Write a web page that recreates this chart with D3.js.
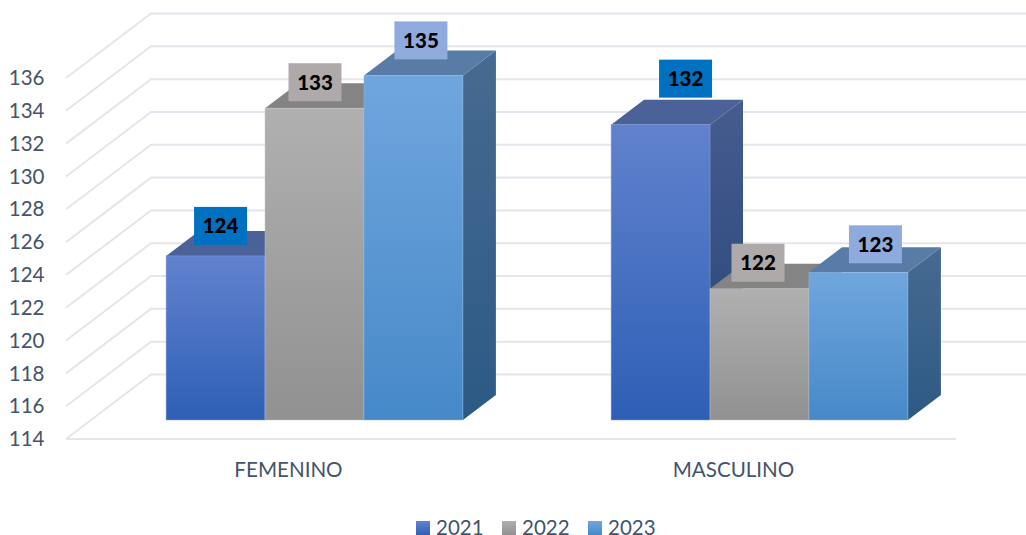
<!DOCTYPE html>
<html>
<head>
<meta charset="utf-8">
<script src="https://cdn.jsdelivr.net/npm/d3@7"></script>
<style>
  html, body { margin: 0; background: #fff; overflow: hidden; }
  text { font-family: Lato, sans-serif; }
</style>
</head>
<body>
<div id="chart"></div>
<script>
const categories = ['FEMENINO', 'MASCULINO'];
const years = ['2021', '2022', '2023'];
const values2021 = [124, 132];
const values2022 = [133, 122];
const values2023 = [135, 123];
const yTicks = [114, 116, 118, 120, 122, 124, 126, 128, 130, 132, 134, 136];

const width = 1026;
const height = 535;
const TEXT = '#44546a';
const GRID = '#e3e6ed';

// front left corner of the floor, and how far the back wall is pushed away
const floorLeft = 66;
const floorRight = 956;
const floorY = 439;
const topY = 78;
const wall = {dx: 85, dy: -64.5};
// bars stand a bit in from the front edge of the floor
const inset = {dx: 26, dy: -19};
const depth = {dx: 33, dy: -25};
const barGroup = 0.667;

// colours per series: front top/bottom, side top/bottom, top face, label box
const STYLES = [
  {front: ['#6182cd', '#2e5fb6'], side: ['#465c8f', '#254478'], top: '#4b6298', label: '#0070c0', edge: '#8aa3dc'},
  {front: ['#b0b0b0', '#919191'], side: ['#6f6f6f', '#5a5a5a'], top: '#848484', label: '#aeaaaa', edge: '#c4c6cc'},
  {front: ['#70a6de', '#4689c8'], side: ['#476a90', '#2c5a85'], top: '#587ca6', label: '#8faadc', edge: '#92bde6'}
];

// labels were dragged around by hand in the original: [dx from bar centre, dy from bar top]
const labelNudge = [
  [[5, -30], [25, -46]],
  [[0.5, -26], [-1.5, -26]],
  [[7.5, -35], [17, -28]]
];
const labelW = 53;
const labelH = 38;

const series = [values2021, values2022, values2023];

const svg = d3.select('#chart').append('svg')
  .attr('width', width)
  .attr('height', height)
  .style('display', 'block');

const defs = svg.append('defs');
function gradient(id, stops) {
  const g = defs.append('linearGradient')
    .attr('id', id)
    .attr('x1', 0).attr('y1', 0).attr('x2', 0).attr('y2', 1);
  g.append('stop').attr('offset', '0%').attr('stop-color', stops[0]);
  g.append('stop').attr('offset', '100%').attr('stop-color', stops[1]);
}
STYLES.forEach((s, i) => {
  gradient(`front-${i}`, s.front);
  gradient(`side-${i}`, s.side);
});

// y on the front edge of the floor, the wall and the bars are this plus an offset
const yScale = d3.scaleLinear()
  .domain([yTicks[0], yTicks[yTicks.length - 1]])
  .range([floorY, topY]);

const xScale = d3.scaleBand()
  .domain(categories)
  .range([floorLeft, floorRight]);

const xInner = d3.scaleBand()
  .domain(d3.range(years.length))
  .range([0, xScale.bandwidth() * barGroup]);

const barBase = yScale.domain()[0];

// gridlines: along the side wall, then along the back wall
const gridG = svg.append('g')
  .attr('fill', 'none')
  .attr('stroke', GRID)
  .attr('stroke-width', 2);
gridG.selectAll('path')
  .data(yTicks)
  .enter().append('path')
    .attr('d', (d) => {
      const y = yScale(d);
      return `M${floorLeft},${y}L${floorLeft + wall.dx},${y + wall.dy}L${floorRight + wall.dx},${y + wall.dy}`;
    });
gridG.append('line')
  .attr('x1', floorLeft)
  .attr('x2', floorRight)
  .attr('y1', floorY)
  .attr('y2', floorY);

// y tick labels
svg.append('g')
  .selectAll('text')
  .data(yTicks)
  .enter().append('text')
    .attr('x', 44.5)
    .attr('y', (d) => yScale(d))
    .attr('dy', '0.35em')
    .attr('text-anchor', 'end')
    .attr('font-size', 20.5)
    .attr('fill', TEXT)
    .text((d) => d);

// bars, drawn left to right so that each one covers the side of the previous
const bars = [];
categories.forEach((cat, c) => {
  series.forEach((vals, s) => {
    const groupW = xScale.bandwidth() * barGroup;
    const x0 = xScale(cat) + inset.dx + (xScale.bandwidth() - groupW) / 2 + xInner(s);
    bars.push({
      c: c,
      s: s,
      value: vals[c],
      x0: x0,
      x1: x0 + xInner.bandwidth(),
      yTop: yScale(vals[c]) + inset.dy,
      yBase: yScale(barBase) + inset.dy
    });
  });
});

const barG = svg.append('g')
  .selectAll('g')
  .data(bars)
  .enter().append('g');

barG.append('path')
  .attr('fill', (d) => `url(#side-${d.s})`)
  .attr('d', (d) => `M${d.x1},${d.yTop}L${d.x1 + depth.dx},${d.yTop + depth.dy}L${d.x1 + depth.dx},${d.yBase + depth.dy}L${d.x1},${d.yBase}Z`);

barG.append('path')
  .attr('fill', (d) => STYLES[d.s].top)
  .attr('d', (d) => `M${d.x0},${d.yTop}L${d.x0 + depth.dx},${d.yTop + depth.dy}L${d.x1 + depth.dx},${d.yTop + depth.dy}L${d.x1},${d.yTop}Z`);

barG.append('rect')
  .attr('x', (d) => d.x0)
  .attr('y', (d) => d.yTop)
  .attr('width', (d) => d.x1 - d.x0)
  .attr('height', (d) => d.yBase - d.yTop)
  .attr('fill', (d) => `url(#front-${d.s})`)
  .attr('stroke', (d) => STYLES[d.s].edge)
  .attr('stroke-opacity', 0.6)
  .attr('stroke-width', 0.8);

// data labels
const labelG = svg.append('g')
  .selectAll('g')
  .data(bars)
  .enter().append('g')
    .attr('transform', (d) => {
      const nudge = labelNudge[d.s][d.c];
      return `translate(${(d.x0 + d.x1) / 2 + nudge[0]},${d.yTop + nudge[1]})`;
    });
labelG.append('rect')
  .attr('x', -labelW / 2)
  .attr('y', -labelH / 2)
  .attr('width', labelW)
  .attr('height', labelH)
  .attr('fill', (d) => STYLES[d.s].label);
labelG.append('text')
  .attr('text-anchor', 'middle')
  .attr('dy', '0.36em')
  .attr('font-size', 20.5)
  .attr('font-weight', 900)
  .attr('fill', '#000')
  .text((d) => d.value);

// category labels
svg.append('g')
  .selectAll('text')
  .data(categories)
  .enter().append('text')
    .attr('x', (d) => xScale(d) + xScale.bandwidth() / 2)
    .attr('y', 477)
    .attr('text-anchor', 'middle')
    .attr('font-size', 20.6)
    .attr('fill', TEXT)
    .text((d) => d);

// legend
const legendX = d3.scalePoint()
  .domain(years)
  .range([416, 588]);
const legend = svg.append('g')
  .selectAll('g')
  .data(years)
  .enter().append('g')
    .attr('transform', (d) => `translate(${legendX(d)},521)`);
legend.append('rect')
  .attr('width', 14)
  .attr('height', 14)
  .attr('fill', (d, i) => `url(#front-${i})`);
legend.append('text')
  .attr('x', 20)
  .attr('y', 13.5)
  .attr('font-size', 20.5)
  .attr('fill', TEXT)
  .text((d) => d);
</script>
</body>
</html>
